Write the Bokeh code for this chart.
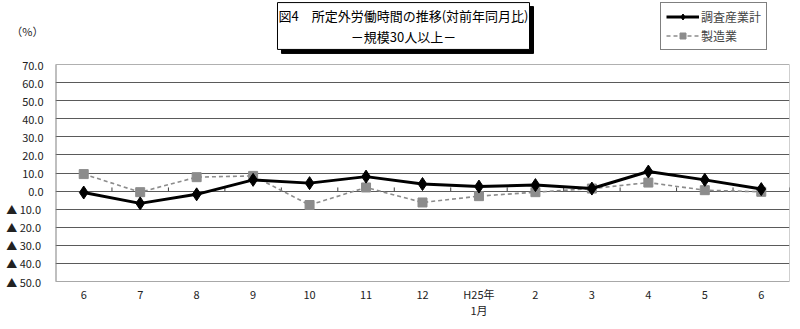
from bokeh.plotting import figure
from bokeh.models import FixedTicker, Label, Legend, LegendItem, Range1d
from bokeh.embed import file_html
from bokeh.resources import INLINE

months = ["6", "7", "8", "9", "10", "11", "12", "H25年\n1月", "2", "3", "4", "5", "6"]
total = [-0.8, -6.8, -1.8, 6.2, 4.4, 8.0, 3.9, 2.5, 3.3, 1.4, 10.8, 6.2, 1.1]
mfg = [9.4, -0.6, 7.7, 8.4, -7.7, 2.0, -6.3, -2.8, -0.6, 1.4, 4.7, 0.5, -0.4]
y_ticks = list(range(-50, 80, 10))
y_unit_label = "（%）"
title_text = "図4　所定外労働時間の推移(対前年同月比)\n－規模30人以上－"
legend_labels = ["調査産業計", "製造業"]
FONT = "Noto Sans CJK JP"

Y_MIN, Y_MAX = -50, 70
# the frame reaches the top of the canvas so that the title box and legend are drawn inside it
FRAME_H = 281
PX_PER_UNIT = 217 / (Y_MAX - Y_MIN)
Y_TOP = Y_MAX + 64 / PX_PER_UNIT
Y_UNIT_POS = Y_MAX + (64 - 30) / PX_PER_UNIT

def ylab(v):
    return ("▲  %.1f" % abs(v)) if v < 0 else "%.1f" % v

x = list(range(len(months)))
X0, X1 = -0.5, len(months) - 0.5

p = figure(width=800, height=329, output_backend="svg", toolbar_location=None,
           x_range=Range1d(X0, X1), y_range=Range1d(Y_MIN, Y_TOP),
           min_border_left=55, min_border_right=11, min_border_top=0, min_border_bottom=48)
p.background_fill_color = "white"
p.border_fill_color = "white"
p.outline_line_color = None

# y axis (line drawn separately so it stops at 70)
p.yaxis.ticker = FixedTicker(ticks=y_ticks + [Y_UNIT_POS])
overrides = {v: ylab(v) for v in y_ticks}
overrides[Y_UNIT_POS] = y_unit_label
p.yaxis.major_label_overrides = overrides
p.yaxis.major_tick_line_color = None
p.yaxis.minor_tick_line_color = None
p.yaxis.axis_line_color = None
p.yaxis.major_label_standoff = 6
p.yaxis.major_label_text_font = FONT
p.yaxis.major_label_text_font_size = "11px"
p.yaxis.major_label_text_color = "#222222"

p.xaxis.ticker = FixedTicker(ticks=x)
p.xaxis.major_label_overrides = {i: m for i, m in enumerate(months)}
p.xaxis.major_tick_line_color = None
p.xaxis.minor_tick_line_color = None
p.xaxis.axis_line_color = "#a8a8a8"
p.xaxis.major_label_standoff = -2
p.xaxis.major_label_text_font = FONT
p.xaxis.major_label_text_font_size = "11px"
p.xaxis.major_label_text_line_height = 1.0
p.xaxis.major_label_text_color = "#222222"

p.xgrid.grid_line_color = None
p.ygrid.ticker = FixedTicker(ticks=[t for t in y_ticks if Y_MIN < t < Y_MAX])
p.ygrid.grid_line_color = "#5a5a5a"
p.ygrid.grid_line_width = 1.2

# plot-area border: left spine, top and right edges
p.segment(x0=[X0], y0=[Y_MIN], x1=[X0], y1=[Y_MAX], line_color="#808080", line_width=2)
p.segment(x0=[X0], y0=[Y_MAX], x1=[X1], y1=[Y_MAX], line_color="#b0b0b0", line_width=1)
p.segment(x0=[X1], y0=[Y_MIN], x1=[X1], y1=[Y_MAX], line_color="#a0a0a0", line_width=1)

# tick marks on the zero line at category boundaries
bx = [i + 0.5 for i in x]
p.segment(x0=bx, y0=[0] * len(bx), x1=bx, y1=[2] * len(bx), line_color="#404040", line_width=1)

# series
r_mfg_l = p.line(x, mfg, line_color="#8c8c8c", line_width=1.6, line_dash="4 3")
r_mfg_m = p.scatter(x, mfg, marker="square", size=9, fill_color="#8c8c8c", line_color="#8c8c8c")
r_tot_l = p.line(x, total, line_color="black", line_width=3)
r_tot_m = p.scatter(x, total, marker="diamond", size=13, fill_color="black", line_color="black")

legend = Legend(items=[LegendItem(label=legend_labels[0], renderers=[r_tot_l, r_tot_m]),
                       LegendItem(label=legend_labels[1], renderers=[r_mfg_l, r_mfg_m])],
                location=(605, 231), orientation="vertical")
legend.border_line_color = "black"
legend.border_line_width = 1
legend.background_fill_color = "white"
legend.background_fill_alpha = 1
legend.label_text_font = FONT
legend.label_text_font_size = "12px"
legend.glyph_width = 33
legend.glyph_height = 15
legend.label_height = 15
legend.spacing = 2
legend.padding = 5
legend.margin = 0
legend.label_standoff = 2
p.add_layout(legend, "center")

# title box with shadow (frame-relative screen units)
common = dict(x=348, y=FRAME_H - 25.5, x_units="screen", y_units="screen", text=title_text,
              text_font=FONT, text_font_size="13px", text_align="center",
              text_baseline="middle", text_line_height=1.15, padding=(1, 3))
shadow = Label(x_offset=4, y_offset=-4, text_color="black", background_fill_color="black",
               border_line_color="black", **common)
title = Label(text_color="black", background_fill_color="white", border_line_color="black",
              border_line_width=1, **common)
p.add_layout(shadow)
p.add_layout(title)

open("out.html", "w").write(file_html(p, INLINE))
